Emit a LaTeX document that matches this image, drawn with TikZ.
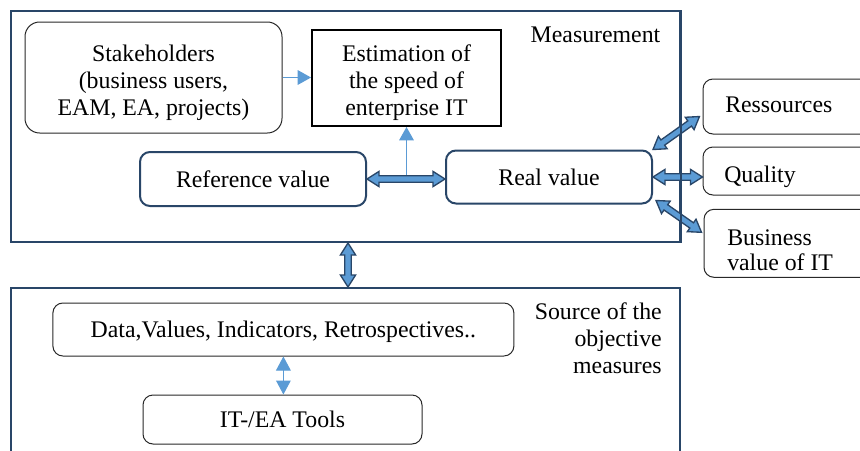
\documentclass[tikz,border=0pt]{standalone}
\usepackage{fontspec}
\setmainfont{Liberation Serif}
\newfontfamily\tnr{Liberation Serif}
\usetikzlibrary{calc,arrows.meta}
\definecolor{dkblue}{RGB}{41,70,104}
\definecolor{ltblue}{RGB}{91,155,213}
\definecolor{thinline}{RGB}{40,40,40}
\newcommand\mainsize{\tnr\fontsize{17.85pt}{20.25pt}\selectfont}
\newcommand\bussize{\tnr\fontsize{17.85pt}{19.1pt}\selectfont}
\tikzset{
  frame/.style={draw=dkblue, line width=1.5pt, rectangle, inner sep=0pt},
  softbox/.style={draw=thinline, line width=0.75pt, rounded corners=7.5pt, rectangle, inner sep=0pt},
  bluebox/.style={draw=dkblue, line width=1.5pt, rounded corners=7.5pt, rectangle, text depth=0pt, inner sep=0pt},
  lbl/.style={inner sep=0pt, text depth=0pt},
  mlbl/.style={inner sep=0pt, align=center},
  thinarrow/.style={draw=ltblue, line width=0.75pt, -{Triangle[length=10pt,width=11pt]}},
  twotip/.style={draw=ltblue, line width=0.75pt, {Triangle[length=10.5pt,width=11pt]}-{Triangle[length=10.5pt,width=11pt]}},
  barrow/.style={draw=dkblue, fill=ltblue, line width=1pt, line join=miter},
}
\newcommand\blockarrow[2]{%
  \draw[barrow] let \p1=(#1), \p2=(#2),
    \n1={atan2((\y2)-(\y1),(\x2)-(\x1))}, \n2={veclen((\x2)-(\x1),(\y2)-(\y1))} in
    [shift={(\p1)}, rotate=\n1]
    (0pt,0pt) -- (9pt,5.7pt) -- (9pt,2.4pt) -- ({\n2-9pt},2.4pt) -- ({\n2-9pt},5.7pt)
    -- ({\n2-0pt},0pt) -- ({\n2-9pt},-5.7pt) -- ({\n2-9pt},-2.4pt) -- (9pt,-2.4pt)
    -- (9pt,-5.7pt) -- cycle;}
\begin{document}
\begin{tikzpicture}[x=0.75pt,y=-0.75pt, every node/.style={font=\mainsize}]
\clip (0,0) rectangle (860,450);
\fill[white] (0,0) rectangle (860,450);
% frames
\node[frame, minimum width=501.75pt, minimum height=173.25pt] (meas) at (345.5,126.5) {};
\node[frame, minimum width=501.75pt, minimum height=150pt] (src) at (345.5,388) {};
\node[lbl] (meastxt) at (595.5,35) {Measurement};
% top boxes
\node[softbox, rounded corners=11pt, minimum width=192.75pt, minimum height=83.25pt] (stake) at (153.5,77.5) {};
\node[mlbl] (staketxt) at (153.5,82.4) {Stakeholders\\(business users,\\EAM, EA, projects)};
\node[draw=black, line width=1.5pt, inner sep=0pt, minimum width=141.75pt, minimum height=72pt] (est) at (406.5,78) {};
\node[mlbl] (esttxt) at (406.5,83) {Estimation of\\the speed of\\enterprise IT};
\node[bluebox, minimum width=169.5pt, minimum height=40.5pt] (ref) at (253,179) {Reference value};
\node[bluebox, minimum width=154.5pt, minimum height=39.75pt] (real) at (549,177) {Real value};
% right boxes
\node[softbox, minimum width=132.75pt, minimum height=41.25pt] (res) at (791.5,106.5) {};
\node[lbl, anchor=west] (restxt) at (725,105) {Ressources};
\node[softbox, minimum width=132.75pt, minimum height=36pt] (qual) at (791.5,171) {};
\node[lbl, anchor=west] (qualtxt) at (724,174) {Quality};
\node[softbox, minimum width=132pt, minimum height=51pt] (bus) at (792,243.3) {};
\node[mlbl, align=left, anchor=west, font=\bussize] (bustxt) at (727,250) {Business\\value of IT};
% bottom
\node[mlbl, align=right, anchor=east] (srctxt) at (662,338.5) {Source of the\\objective\\measures};
\node[softbox, text depth=0pt, minimum width=345.75pt, minimum height=39.75pt] (data) at (283.4,329.5) {Data,Values, Indicators, Retrospectives..};
\node[softbox, text depth=0pt, minimum width=209.25pt, minimum height=36.75pt] (tools) at (282.5,419.5) {IT-/EA Tools};
% connectors
\draw[thinarrow] (stake.east) -- (stake.east -| est.west);
\draw[thinarrow] (est.south |- ref.east) -- (est.south);
\draw[twotip] (data.south) -- (data.south |- tools.north);
\blockarrow{ref.east}{ref.east -| real.west}
\blockarrow{real.north east}{$(res.west)+(-3,10)$}
\blockarrow{real.east}{real.east -| qual.west}
\blockarrow{$(real.south east)+(3,-4)$}{$(bus.west)+(-2,-11)$}
\blockarrow{$(meas.south)+(2.5,0)$}{$(src.north)+(2.5,0)$}
\draw[dkblue, line width=1.5pt] (meas.north east) -- (meas.south east);
\end{tikzpicture}
\end{document}
